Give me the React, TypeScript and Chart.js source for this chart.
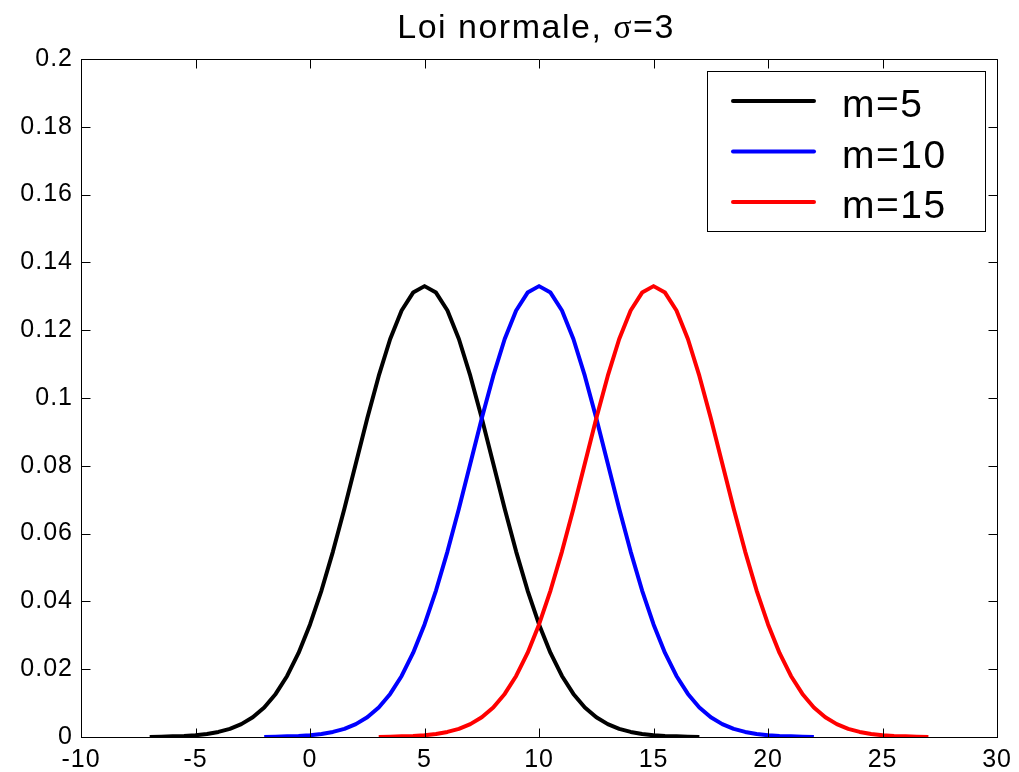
import React, { useEffect, useRef } from "react";
import { Chart, registerables } from "chart.js";

Chart.register(...registerables);

// Normal density, sigma = 3, sampled every 0.5 over mean ± 12
const xMean5 = [-7, -6.5, -6, -5.5, -5, -4.5, -4, -3.5, -3, -2.5, -2, -1.5, -1, -0.5, 0, 0.5, 1, 1.5, 2, 2.5, 3, 3.5, 4, 4.5, 5, 5.5, 6, 6.5, 7, 7.5, 8, 8.5, 9, 9.5, 10, 10.5, 11, 11.5, 12, 12.5, 13, 13.5, 14, 14.5, 15, 15.5, 16, 16.5, 17];
const yMean5 = [0.0000, 0.0001, 0.0002, 0.0003, 0.0005, 0.0009, 0.0015, 0.0024, 0.0038, 0.0058, 0.0087, 0.0127, 0.0180, 0.0248, 0.0332, 0.0432, 0.0547, 0.0673, 0.0807, 0.0940, 0.1065, 0.1174, 0.1258, 0.1311, 0.1330, 0.1311, 0.1258, 0.1174, 0.1065, 0.0940, 0.0807, 0.0673, 0.0547, 0.0432, 0.0332, 0.0248, 0.0180, 0.0127, 0.0087, 0.0058, 0.0038, 0.0024, 0.0015, 0.0009, 0.0005, 0.0003, 0.0002, 0.0001, 0.0000];

const xMean10 = [-2, -1.5, -1, -0.5, 0, 0.5, 1, 1.5, 2, 2.5, 3, 3.5, 4, 4.5, 5, 5.5, 6, 6.5, 7, 7.5, 8, 8.5, 9, 9.5, 10, 10.5, 11, 11.5, 12, 12.5, 13, 13.5, 14, 14.5, 15, 15.5, 16, 16.5, 17, 17.5, 18, 18.5, 19, 19.5, 20, 20.5, 21, 21.5, 22];
const yMean10 = [0.0000, 0.0001, 0.0002, 0.0003, 0.0005, 0.0009, 0.0015, 0.0024, 0.0038, 0.0058, 0.0087, 0.0127, 0.0180, 0.0248, 0.0332, 0.0432, 0.0547, 0.0673, 0.0807, 0.0940, 0.1065, 0.1174, 0.1258, 0.1311, 0.1330, 0.1311, 0.1258, 0.1174, 0.1065, 0.0940, 0.0807, 0.0673, 0.0547, 0.0432, 0.0332, 0.0248, 0.0180, 0.0127, 0.0087, 0.0058, 0.0038, 0.0024, 0.0015, 0.0009, 0.0005, 0.0003, 0.0002, 0.0001, 0.0000];

const xMean15 = [3, 3.5, 4, 4.5, 5, 5.5, 6, 6.5, 7, 7.5, 8, 8.5, 9, 9.5, 10, 10.5, 11, 11.5, 12, 12.5, 13, 13.5, 14, 14.5, 15, 15.5, 16, 16.5, 17, 17.5, 18, 18.5, 19, 19.5, 20, 20.5, 21, 21.5, 22, 22.5, 23, 23.5, 24, 24.5, 25, 25.5, 26, 26.5, 27];
const yMean15 = [0.0000, 0.0001, 0.0002, 0.0003, 0.0005, 0.0009, 0.0015, 0.0024, 0.0038, 0.0058, 0.0087, 0.0127, 0.0180, 0.0248, 0.0332, 0.0432, 0.0547, 0.0673, 0.0807, 0.0940, 0.1065, 0.1174, 0.1258, 0.1311, 0.1330, 0.1311, 0.1258, 0.1174, 0.1065, 0.0940, 0.0807, 0.0673, 0.0547, 0.0432, 0.0332, 0.0248, 0.0180, 0.0127, 0.0087, 0.0058, 0.0038, 0.0024, 0.0015, 0.0009, 0.0005, 0.0003, 0.0002, 0.0001, 0.0000];

const seriesLabels = ["m=5", "m=10", "m=15"];
const seriesColors = ["#000000", "#0000ff", "#ff0000"];

const xTickValues = [-10, -5, 0, 5, 10, 15, 20, 25, 30];
const xTickLabels = ["-10", "-5", "0", "5", "10", "15", "20", "25", "30"];
const yTickValues = [0, 0.02, 0.04, 0.06, 0.08, 0.1, 0.12, 0.14, 0.16, 0.18, 0.2];
const yTickLabels = ["0", "0.02", "0.04", "0.06", "0.08", "0.1", "0.12", "0.14", "0.16", "0.18", "0.2"];

const FONT = "'Liberation Sans', Arial, Helvetica, sans-serif";
const TICK_SPACING = "1px";
const TICK_LEN = 9;

const toPoints = (xs: number[], ys: number[]) => xs.map((x, i) => ({ x, y: ys[i] }));

// Inside tick marks on all four sides, the full axes frame, title and legend box
const boxPlugin = {
  id: "matlabBox",
  beforeDraw(chart: any) {
    (chart.ctx as any).letterSpacing = TICK_SPACING;
  },
  afterDatasetsDraw(chart: any) {
    const { ctx, chartArea: a, scales } = chart;
    ctx.save();
    (ctx as any).letterSpacing = "0px";
    ctx.strokeStyle = "#000";
    ctx.lineWidth = 1;
    ctx.beginPath();
    const L = Math.round(a.left) + 0.5;
    const R = Math.round(a.right) + 0.5;
    const T = Math.round(a.top) + 0.5;
    const B = Math.round(a.bottom) + 0.5;
    ctx.rect(L, T, R - L, B - T);
    for (const v of xTickValues) {
      const px = Math.round(scales.x.getPixelForValue(v)) + 0.5;
      ctx.moveTo(px, B);
      ctx.lineTo(px, B - TICK_LEN);
      ctx.moveTo(px, T);
      ctx.lineTo(px, T + TICK_LEN);
    }
    for (const v of yTickValues) {
      const py = Math.round(scales.y.getPixelForValue(v)) + 0.5;
      ctx.moveTo(L, py);
      ctx.lineTo(L + TICK_LEN, py);
      ctx.moveTo(R, py);
      ctx.lineTo(R - TICK_LEN, py);
    }
    ctx.stroke();
    ctx.restore();
  },
  afterDraw(chart: any) {
    const { ctx, chartArea: a } = chart;
    ctx.save();
    // Title with a symbol-style sigma
    ctx.fillStyle = "#000";
    ctx.textBaseline = "alphabetic";
    (ctx as any).letterSpacing = "1.5px";
    const parts = [
      { t: "Loi normale, ", f: `34px ${FONT}` },
      { t: "σ", f: `34px 'Liberation Serif', 'DejaVu Serif', serif` },
      { t: "=3", f: `34px ${FONT}` },
    ];
    let total = 0;
    for (const p of parts) {
      ctx.font = p.f;
      total += ctx.measureText(p.t).width;
    }
    let x = (a.left + a.right) / 2 - total / 2 - 3;
    for (const p of parts) {
      ctx.font = p.f;
      ctx.fillText(p.t, x, 38);
      x += ctx.measureText(p.t).width;
    }

    // Legend box
    const bx = 707.5, by = 71.5, bw = 278, bh = 160;
    ctx.fillStyle = "#fff";
    ctx.fillRect(bx, by, bw, bh);
    ctx.strokeStyle = "#000";
    ctx.lineWidth = 1;
    ctx.strokeRect(bx, by, bw, bh);
    const rows = [101, 151.5, 202];
    chart.data.datasets.forEach((ds: any, i: number) => {
      const y = rows[i];
      ctx.strokeStyle = ds.borderColor;
      ctx.lineWidth = 4;
      ctx.lineCap = "round";
      ctx.beginPath();
      ctx.moveTo(733, y);
      ctx.lineTo(814, y);
      ctx.stroke();
      ctx.fillStyle = "#000";
      ctx.font = `39px ${FONT}`;
      (ctx as any).letterSpacing = "1.5px";
      ctx.fillText(ds.label, 842, y + 16);
    });
    ctx.restore();
  },
};

export default function App() {
  const canvasRef = useRef<HTMLCanvasElement | null>(null);

  useEffect(() => {
    const canvas = canvasRef.current;
    if (!canvas) return;
    const chart = new Chart(canvas, {
      type: "line",
      data: {
        datasets: [
          { label: seriesLabels[0], data: toPoints(xMean5, yMean5), borderColor: seriesColors[0], order: 3 },
          { label: seriesLabels[1], data: toPoints(xMean10, yMean10), borderColor: seriesColors[1], order: 2 },
          { label: seriesLabels[2], data: toPoints(xMean15, yMean15), borderColor: seriesColors[2], order: 1 },
        ].map((d) => ({
          ...d,
          borderWidth: 4,
          pointRadius: 0,
          tension: 0,
          fill: false,
          borderJoinStyle: "round" as const,
        })),
      },
      options: {
        responsive: false,
        animation: false,
        events: [],
        layout: { padding: { top: 59, right: 20, left: 0, bottom: 0 } },
        plugins: {
          legend: { display: false },
          title: { display: false },
          tooltip: { enabled: false },
        },
        scales: {
          x: {
            type: "linear",
            min: -10,
            max: 30,
            grid: { display: false, drawTicks: false },
            border: { display: true, color: "#000", width: 1 },
            afterBuildTicks: (scale: any) => {
              scale.ticks = xTickValues.map((value) => ({ value }));
            },
            afterFit: (scale: any) => {
              scale.height = 35;
            },
            ticks: {
              color: "#000",
              padding: 8,
              maxRotation: 0,
              autoSkip: false,
              font: { family: FONT, size: 25 },
              callback: (v: any) => xTickLabels[xTickValues.indexOf(Number(v))] ?? "",
            },
          },
          y: {
            type: "linear",
            min: 0,
            max: 0.2,
            grid: { display: false, drawTicks: false },
            border: { display: true, color: "#000", width: 1 },
            afterBuildTicks: (scale: any) => {
              scale.ticks = yTickValues.map((value) => ({ value }));
            },
            afterFit: (scale: any) => {
              scale.width = 81;
            },
            ticks: {
              color: "#000",
              padding: 8,
              autoSkip: false,
              font: { family: FONT, size: 25 },
              callback: (v: any) => {
                const i = yTickValues.findIndex((t) => Math.abs(t - Number(v)) < 1e-9);
                return i >= 0 ? yTickLabels[i] : "";
              },
            },
          },
        },
      },
      plugins: [boxPlugin],
    });
    return () => chart.destroy();
  }, []);

  return (
    <div style={{ position: "fixed", left: 0, top: 0, width: 1019, height: 772, background: "#fff" }}>
      <canvas ref={canvasRef} width={1019} height={772} style={{ display: "block" }} />
    </div>
  );
}
